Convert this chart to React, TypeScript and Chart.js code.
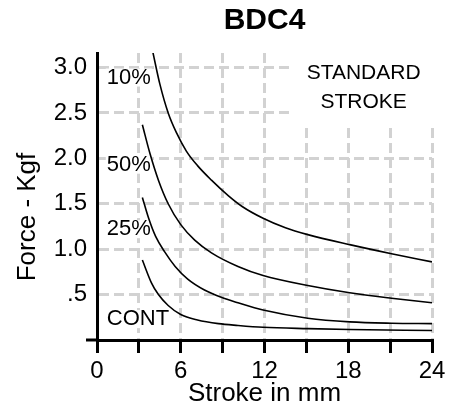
import React, { useEffect, useRef } from "react";
import { Chart, registerables } from "chart.js";

Chart.register(...registerables);

// ---- Data ----
const strokeTicks = [0, 3, 6, 9, 12, 15, 18, 21, 24];
const forceTicks = [0, 0.5, 1.0, 1.5, 2.0, 2.5, 3.0];
const forceTickLabels = ["", ".5", "1.0", "1.5", "2.0", "2.5", "3.0"];

const stroke10 = [4.0, 4.5, 5.1, 5.7, 6.4, 7.2, 8.2, 9.4, 10.4, 11.9, 13.5, 15.1, 18.1, 21.1, 24];
const force10 = [3.17, 2.82, 2.5, 2.28, 2.08, 1.92, 1.76, 1.59, 1.47, 1.34, 1.235, 1.16, 1.05, 0.95, 0.86];

const stroke50 = [3.25, 3.8, 4.4, 5.1, 6.0, 7.0, 8.2, 10.1, 11.9, 15.1, 18.1, 21.1, 24];
const force50 = [2.37, 2.05, 1.76, 1.5, 1.27, 1.1, 0.96, 0.81, 0.71, 0.6, 0.52, 0.46, 0.41];

const stroke25 = [3.25, 3.7, 4.2, 4.85, 5.6, 6.5, 7.7, 8.9, 10.1, 11.9, 15.1, 18.1, 21.1, 24];
const force25 = [1.57, 1.34, 1.14, 0.97, 0.81, 0.67, 0.55, 0.47, 0.41, 0.33, 0.24, 0.2, 0.185, 0.18];

const strokeCont = [3.25, 3.9, 4.4, 5.1, 6.0, 7.2, 8.7, 10.1, 11.9, 15.1, 18.1, 24];
const forceCont = [0.88, 0.63, 0.5, 0.38, 0.28, 0.22, 0.18, 0.16, 0.14, 0.125, 0.115, 0.105];

const seriesNames = ["10%", "50%", "25%", "CONT"];

// curve labels (data coordinates: left edge x, vertical centre y)
const curveLabels = [
  { text: "10%", x: 0.7, y: 2.89 },
  { text: "50%", x: 0.7, y: 1.93 },
  { text: "25%", x: 0.7, y: 1.22 },
  { text: "CONT", x: 0.7, y: 0.23 },
];

const FONT = '"Liberation Sans", Arial, Helvetica, sans-serif';

const toPoints = (xs: number[], ys: number[]) => xs.map((x, i) => ({ x, y: ys[i] }));

const annotationPlugin = {
  id: "annotations",
  beforeDatasetsDraw(chart: any) {
    const { ctx, chartArea, scales } = chart;
    const xs = scales.x;
    const ys = scales.y;
    ctx.save();
    // STANDARD STROKE box
    const bx1 = xs.getPixelForValue(13.8);
    const bx2 = chartArea.right + 3;
    const by1 = chartArea.top - 1;
    const by2 = ys.getPixelForValue(2.34);
    ctx.fillStyle = "#ffffff";
    ctx.fillRect(bx1, by1, bx2 - bx1, by2 - by1);
    ctx.fillStyle = "#000000";
    ctx.font = `21px ${FONT}`;
    ctx.textAlign = "center";
    ctx.textBaseline = "middle";
    const cx = xs.getPixelForValue(19.1);
    ctx.fillText("STANDARD", cx, ys.getPixelForValue(2.94));
    ctx.fillText("STROKE", cx, ys.getPixelForValue(2.62));

    // curve labels with white background
    ctx.font = `22px ${FONT}`;
    ctx.textAlign = "left";
    for (const l of curveLabels) {
      const px = xs.getPixelForValue(l.x);
      const py = ys.getPixelForValue(l.y);
      const w = ctx.measureText(l.text).width;
      ctx.fillStyle = "#ffffff";
      ctx.fillRect(px - 1, py - 9, w + 2, 18);
      ctx.fillStyle = "#000000";
      ctx.fillText(l.text, px, py);
    }

    // y-axis title
    ctx.save();
    ctx.translate(28, 217);
    ctx.rotate(-Math.PI / 2);
    ctx.font = `26px ${FONT}`;
    ctx.textAlign = "center";
    ctx.textBaseline = "middle";
    ctx.fillText("Force - Kgf", 0, 0);
    ctx.restore();

    // x-axis line extension to the left of the origin
    ctx.strokeStyle = "#000000";
    ctx.lineWidth = 3;
    ctx.beginPath();
    ctx.moveTo(chartArea.left - 11, ys.getPixelForValue(0));
    ctx.lineTo(chartArea.left, ys.getPixelForValue(0));
    ctx.stroke();
    ctx.restore();
  },
};

export default function App() {
  const ref = useRef<HTMLCanvasElement | null>(null);

  useEffect(() => {
    if (!ref.current) return;
    const mk = (label: string, xs: number[], ys: number[]) => ({
      label,
      data: toPoints(xs, ys),
      borderColor: "#000000",
      borderWidth: 1.6,
      pointRadius: 0,
      tension: 0.4,
      cubicInterpolationMode: "monotone" as const,
      fill: false,
    });
    const chart = new Chart(ref.current, {
      type: "line",
      data: {
        datasets: [
          mk(seriesNames[0], stroke10, force10),
          mk(seriesNames[1], stroke50, force50),
          mk(seriesNames[2], stroke25, force25),
          mk(seriesNames[3], strokeCont, forceCont),
        ],
      },
      options: {
        responsive: false,
        animation: false,
        devicePixelRatio: 1,
        layout: { padding: { left: 0, right: 28, top: 0, bottom: 0 } },
        plugins: {
          legend: { display: false },
          tooltip: { enabled: false },
          title: {
            display: true,
            text: "BDC4",
            fullSize: false,
            color: "#000000",
            font: { family: FONT, size: 30, weight: "bold" },
            padding: { top: 3, bottom: 14 },
          },
        },
        scales: {
          x: {
            type: "linear",
            min: 0,
            max: 24,
            afterFit: (s: any) => {
              s.height = 76;
            },
            afterBuildTicks: (s: any) => {
              s.ticks = strokeTicks.map((v) => ({ value: v }));
            },
            grid: {
              color: "#d2d2d2",
              lineWidth: 3,
              drawTicks: true,
              tickLength: 13,
              tickWidth: 3,
              tickColor: "#000000",
              tickBorderDash: [],
            },
            border: { display: true, color: "#000000", width: 3, dash: [10, 5] },
            ticks: {
              autoSkip: false,
              maxRotation: 0,
              padding: 4,
              color: "#000000",
              font: { family: FONT, size: 24 },
              callback: (v: any) => (Number(v) % 6 === 0 ? String(v) : ""),
            },
            title: {
              display: true,
              text: "Stroke in mm",
              color: "#000000",
              font: { family: FONT, size: 26 },
              padding: { top: 0, bottom: 7 },
            },
          },
          y: {
            type: "linear",
            min: 0,
            max: 3.16,
            afterFit: (s: any) => {
              s.width = 97;
            },
            afterBuildTicks: (s: any) => {
              s.ticks = forceTicks.map((v) => ({ value: v }));
            },
            grid: {
              color: "#d2d2d2",
              lineWidth: 3,
              drawTicks: false,
            },
            border: { display: true, color: "#000000", width: 3, dash: [10, 5] },
            ticks: {
              padding: 10,
              color: "#000000",
              font: { family: FONT, size: 24 },
              callback: (v: any) => {
                const i = forceTicks.indexOf(Number(v));
                return i >= 0 ? forceTickLabels[i] : "";
              },
            },
          },
        },
      },
      plugins: [annotationPlugin],
    } as any);
    return () => chart.destroy();
  }, []);

  return (
    <div style={{ position: "absolute", left: 0, top: 0, width: 460, height: 416, background: "#ffffff" }}>
      <canvas ref={ref} width={460} height={416} style={{ display: "block" }} />
    </div>
  );
}
